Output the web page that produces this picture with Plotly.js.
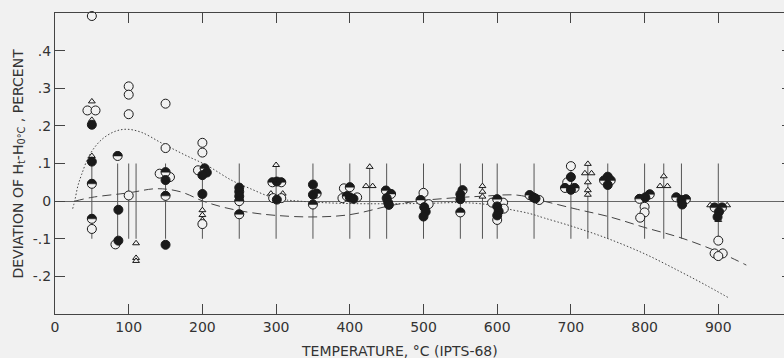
<!DOCTYPE html>
<html><head><meta charset="utf-8">
<script src="https://cdn.plot.ly/plotly-3.0.1.min.js"></script>
<style>html,body{margin:0;padding:0;overflow:hidden;background:#f1f1f1}#chart{width:800px;height:358px}</style>
</head><body><div id="chart"></div>
<script>
// Vertical uncertainty bars (±0.1 %)
const barTemps = [50, 85, 100, 110, 150, 200, 250, 300, 350, 400, 427, 450, 500, 550, 580, 600, 650, 700, 723, 750, 800, 826, 850, 900];
const barHalf = 0.1;

// Curves
const dottedX = [24, 27, 31, 36, 47, 63, 81, 97, 117, 145, 176, 206, 240, 264, 298, 332, 390, 450, 504, 553, 590, 617, 644, 664, 700, 748, 800, 847, 880, 915];
const dottedY = [-0.02, 0.003, 0.04, 0.07, 0.123, 0.163, 0.185, 0.191, 0.183, 0.154, 0.123, 0.095, 0.055, 0.034, 0.008, 0.0, -0.006, -0.007, -0.006, -0.004, -0.01, -0.022, -0.033, -0.045, -0.066, -0.098, -0.14, -0.186, -0.22, -0.258];
const dashedX = [27, 50, 100, 138, 170, 201, 230, 264, 300, 350, 400, 455, 491, 536, 580, 627, 663, 709, 753, 800, 850, 900, 938];
const dashedY = [0.0, 0.01, 0.022, 0.033, 0.025, 0.0, -0.017, -0.03, -0.038, -0.042, -0.036, -0.012, 0.0, 0.008, 0.013, 0.016, 0.0, -0.022, -0.042, -0.07, -0.098, -0.135, -0.17];

// Open circles
const openX = [50, 44, 55, 50, 82, 100, 100, 100, 100, 150, 150, 142, 156, 200, 200, 194, 200, 296, 307, 392, 390, 410, 500, 507, 593, 608, 609, 600, 657, 700, 695, 800, 800, 794, 900, 895, 906, 900];
const openY = [0.492, 0.241, 0.241, -0.074, -0.115, 0.305, 0.283, 0.231, 0.015, 0.259, 0.141, 0.073, 0.064, 0.155, 0.129, 0.082, -0.061, 0.008, 0.008, 0.034, 0.008, 0.01, 0.022, -0.008, -0.004, -0.004, -0.02, -0.05, 0.003, 0.093, 0.05, -0.015, -0.03, -0.044, -0.105, -0.139, -0.139, -0.146];

// Filled circles
const fillX = [50, 50, 86, 86, 150, 150, 206, 200, 200, 250, 250, 250, 301, 301, 350, 350, 400, 405, 450, 452, 453, 501, 503, 500, 550, 550, 600, 602, 600, 649, 652, 700, 700, 750, 750, 801, 850, 851, 901, 899];
const fillY = [0.203, 0.105, -0.023, -0.105, 0.056, -0.116, 0.076, 0.069, 0.019, 0.036, 0.025, 0.013, 0.052, 0.004, 0.044, 0.017, 0.01, 0.006, 0.008, -0.004, -0.01, -0.016, -0.028, -0.041, 0.018, 0.005, -0.014, -0.027, -0.038, 0.01, 0.007, 0.064, 0.03, 0.065, 0.043, 0.01, 0.003, -0.009, -0.028, -0.042];

// Half-filled circles
const halfX = [50, 50, 85, 150, 150, 203, 250, 250, 295, 307, 355, 350, 400, 396, 449, 456, 496, 553, 550, 600, 644, 692, 705, 745, 754, 793, 807, 843, 856, 895, 905];
const halfY = [0.046, -0.047, 0.12, 0.077, 0.014, 0.087, 0.0, -0.035, 0.05, 0.05, 0.02, -0.009, 0.037, 0.013, 0.028, 0.019, 0.003, 0.029, -0.03, 0.005, 0.016, 0.035, 0.035, 0.055, 0.055, 0.006, 0.018, 0.01, 0.005, -0.017, -0.017];

// Open triangles
const triX = [50, 50, 50, 110, 110, 110, 200, 200, 200, 300, 293, 309, 427, 422, 431, 580, 580, 580, 723, 719, 728, 723, 723, 723, 826, 821, 831, 889, 912, 900];
const triY = [0.265, 0.216, 0.12, -0.112, -0.151, -0.159, -0.024, -0.037, -0.05, 0.096, 0.02, 0.02, 0.091, 0.04, 0.04, 0.04, 0.025, 0.012, 0.099, 0.074, 0.074, 0.05, 0.029, 0.017, 0.066, 0.04, 0.04, -0.011, -0.011, -0.05];

const xTicks = [0, 100, 200, 300, 400, 500, 600, 700, 800, 900];
const yTicks = [-0.2, -0.1, 0, 0.1, 0.2, 0.3, 0.4];
const yTickText = ['-.2', '-.1', '0', '.1', '.2', '.3', '.4'];
const xTitle = 'TEMPERATURE, °C (IPTS-68)';
const yTitle = 'DEVIATION OF H<sub>t</sub>-H<sub>0°C</sub> , PERCENT';

const BG = '#f1f1f1';
const INK = '#1a1a1a';
const FONT = 'DejaVu Sans, sans-serif';
const R = 4.5;
const MS = 9;

const traces = [
  {x: barTemps, y: barTemps.map(() => 0), type: 'scatter', mode: 'markers',
   marker: {size: 1, color: 'rgba(0,0,0,0)'},
   error_y: {type: 'constant', value: barHalf, width: 0, thickness: 1, color: '#555'},
   hoverinfo: 'skip'},
  {x: dottedX, y: dottedY, type: 'scatter', mode: 'lines',
   line: {color: '#444', width: 1, dash: '1.5px,2px', shape: 'spline', smoothing: 1}},
  {x: dashedX, y: dashedY, type: 'scatter', mode: 'lines',
   line: {color: '#444', width: 1, dash: '9px,5px', shape: 'spline', smoothing: 1}},
  {x: triX, y: triY, type: 'scatter', mode: 'markers',
   marker: {symbol: 'triangle-up', size: 6, color: BG, line: {color: INK, width: 1}}},
  {x: openX, y: openY, type: 'scatter', mode: 'markers', cliponaxis: false,
   marker: {symbol: 'circle', size: MS, color: BG, line: {color: INK, width: 1}}},
  {x: halfX, y: halfY, type: 'scatter', mode: 'markers',
   marker: {symbol: 'circle', size: MS, color: BG, line: {color: INK, width: 1}}},
  {x: fillX, y: fillY, type: 'scatter', mode: 'markers',
   marker: {symbol: 'circle', size: MS, color: INK, line: {color: INK, width: 1}}}
];

const k = 0.5523 * R;
const halfPath = `M${-R},0C${-R},${k} ${-k},${R} 0,${R}C${k},${R} ${R},${k} ${R},0Z`;
const shapes = halfX.map((xv, i) => ({
  type: 'path', xref: 'x', yref: 'y', xsizemode: 'pixel', ysizemode: 'pixel',
  xanchor: xv, yanchor: halfY[i], path: halfPath,
  fillcolor: INK, line: {color: INK, width: 0.5}, layer: 'above'
}));

const layout = {
  width: 800, height: 358,
  margin: {l: 55, r: 8, t: 13, b: 44},
  paper_bgcolor: BG, plot_bgcolor: BG,
  showlegend: false,
  font: {family: FONT, size: 14, color: '#333'},
  xaxis: {
    range: [0, 1000], tickvals: xTicks, ticktext: xTicks.map(String),
    ticks: 'inside', ticklen: 10, tickcolor: '#444', tickwidth: 1,
    showline: true, linecolor: '#444', linewidth: 1, mirror: 'ticks',
    showgrid: false, zeroline: false,
    tickfont: {family: FONT, size: 14, color: '#333'}
  },
  yaxis: {
    range: [-0.3, 0.5], tickvals: yTicks, ticktext: yTickText,
    ticks: 'inside', ticklen: 10, tickcolor: '#444', tickwidth: 1,
    showline: true, linecolor: '#444', linewidth: 1, mirror: 'ticks',
    showgrid: false, zeroline: true, zerolinecolor: '#666', zerolinewidth: 1,
    tickfont: {family: FONT, size: 14, color: '#333'}
  },
  annotations: [
    {text: xTitle, xref: 'paper', yref: 'paper', x: 0.468, y: -0.123,
     xanchor: 'center', yanchor: 'middle', showarrow: false,
     font: {family: FONT, size: 14, color: '#333'}},
    {text: yTitle, xref: 'paper', yref: 'paper', x: -0.0502, y: 0.5, textangle: -90,
     xanchor: 'center', yanchor: 'middle', showarrow: false,
     font: {family: FONT, size: 14, color: '#333'}}
  ],
  shapes: shapes
};

Plotly.newPlot('chart', traces, layout, {displayModeBar: false, staticPlot: true});
</script>
</body></html>
